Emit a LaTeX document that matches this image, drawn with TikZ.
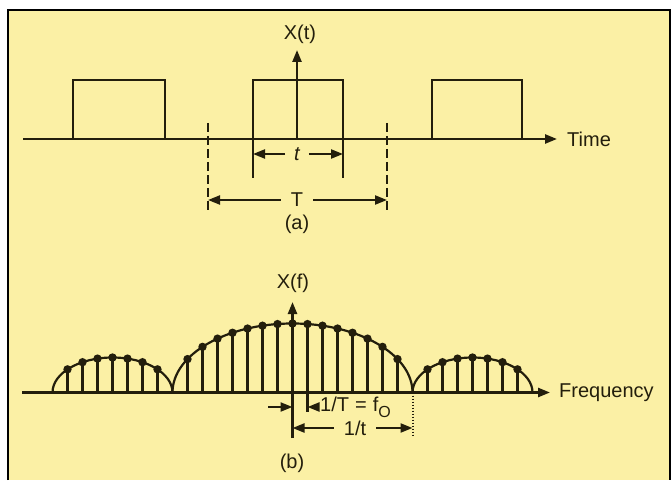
\documentclass[tikz,border=0pt]{standalone}
\usepackage{fontspec}
\setmainfont{Liberation Sans}
\usepackage{xcolor}
\usetikzlibrary{arrows.meta, positioning}
\definecolor{paper}{RGB}{251,240,165}
\definecolor{ink}{RGB}{35,30,12}

\begin{document}
\begin{tikzpicture}[
    x=10pt, y=10pt,
    >={Triangle[length=12pt,width=9pt]},
    line width=2.4pt, draw=ink,
    every node/.style={font=\fontsize{20}{24}\selectfont, text=ink},
    pulse/.style={line width=2.4pt},
    dim/.style={line width=2.2pt, ->},
    stem/.style={line width=2.2pt},
    guide/.style={line width=2.2pt, dash pattern=on 9pt off 4pt},
    fine/.style={line width=2pt, dash pattern=on 1.6pt off 1.4pt}
  ]
  \useasboundingbox (0,0) rectangle (67.2,48);
  \fill[paper] (0.8,0) rectangle (67,47);
  \draw[black, line width=1.6pt] (0.8,0) -- (0.8,47) -- (67,47) -- (67,0);

  % (a) pulse train
  \coordinate (ta0) at (2.3,34.1);
  \node[anchor=west, inner xsep=9pt] (time) at (55.7,34.1) {Time};
  \draw[->] (ta0) -- (time.west);

  \draw[pulse] (7.3,34.1) |- (16.5,40) -- (16.5,34.1);
  \draw[pulse] (25.3,30.2) |- (34.3,40) -- (34.3,30.2);
  \draw[pulse] (43.2,34.1) |- (52.2,40) -- (52.2,34.1);

  \coordinate (o1) at (29.7,34.1);
  \coordinate (xtip) at (29.7,43);
  \node (xt) at (30,44.6) {X(t)};
  \draw[->] (o1) -- (xtip);

  % width t
  \coordinate (tl) at (25.3,32.6);
  \coordinate (tr) at (34.3,32.6);
  \node[font=\fontsize{20}{24}\selectfont\itshape, inner xsep=8pt] (tw) at (29.7,32.6) {t};
  \draw[dim] (tw) -- (tl);
  \draw[dim] (tw) -- (tr);

  % period T
  \coordinate (Tl) at (20.8,28);
  \coordinate (Tr) at (38.7,28);
  \draw[guide] (20.8,35.7) -- (20.8,26.8);
  \draw[guide] (38.7,35.7) -- (38.7,26.8);
  \node[inner xsep=9pt] (per) at (29.7,28) {T};
  \draw[dim] (per) -- (Tl);
  \draw[dim] (per) -- (Tr);

  \node (capa) at (29.7,25.6) {(a)};

  % (b) line spectrum
  \coordinate (fa0) at (2.2,8.75);
  \node[anchor=west, inner xsep=8pt] (freq) at (55,8.75) {Frequency};
  \draw[->] (fa0) -- (freq.west);

  \draw[stem] (17.25,8.75) arc[start angle=180, end angle=0, x radius=12, y radius=6.9];
  \foreach \k in {-7,...,7}{
    \pgfmathsetmacro\hk{6.9*sqrt(1-(\k/8)^2)}
    \draw[stem] (29.25+1.5*\k,8.75) -- ++(0,\hk);
    \fill[ink] (29.25+1.5*\k,8.75+\hk) circle (4.2pt);
  }
  \foreach \c in {11.25,47.25}{
    \draw[stem] (\c-6,8.75) arc[start angle=180, end angle=0, x radius=6, y radius=3.5];
    \foreach \k in {-3,...,3}{
      \pgfmathsetmacro\hk{3.5*sqrt(1-(\k/4)^2)}
      \draw[stem] (\c+1.5*\k,8.75) -- ++(0,\hk);
      \fill[ink] (\c+1.5*\k,8.75+\hk) circle (4.2pt);
    }
  }

  \coordinate (o2) at (29.25,4.2);
  \coordinate (ftip) at (29.25,17.8);
  \node (xf) at (29.3,19.7) {X(f)};
  \draw[->] (o2) -- (ftip);

  % spacing 1/T and width 1/t
  \draw[stem] (30.75,8.75) -- (30.75,6.8);
  \draw[fine] (41.25,8.75) -- (41.25,4.3);
  \coordinate (fl) at (26.8,7.3);
  \coordinate (fc) at (29.25,7.3);
  \coordinate (f1) at (30.75,7.3);
  \draw[dim] (fl) -- (fc);
  \node[anchor=west, inner xsep=1pt] (fo) at (31.8,7.3)
    {1/T\hspace{6pt}=\hspace{6pt}f\raisebox{-6pt}{\fontsize{16}{16}\selectfont O}};
  \draw[dim] (fo.west) -- (f1);

  \coordinate (wl) at (29.25,5.2);
  \coordinate (wr) at (41.25,5.2);
  \node[inner xsep=9pt] (wid) at (35.5,5.2) {1/t};
  \draw[dim] (wid) -- (wl);
  \draw[dim] (wid) -- (wr);

  \node (capb) at (29.2,1.7) {(b)};
\end{tikzpicture}
\end{document}
